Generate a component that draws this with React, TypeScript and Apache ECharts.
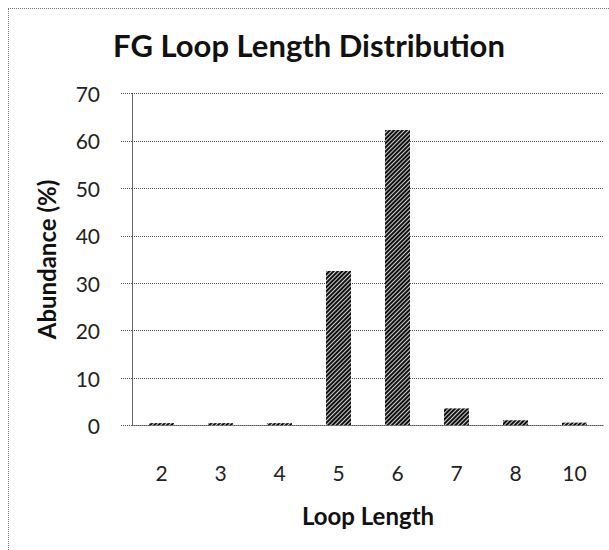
import React, { useEffect, useRef } from "react";
import * as echarts from "echarts";

const categories = ["2", "3", "4", "5", "6", "7", "8", "10"];
const abundance = [0.5, 0.5, 0.5, 32.6, 62.3, 3.6, 1.1, 0.6];
const yTicks = [0, 10, 20, 30, 40, 50, 60, 70];

const FONT = "Lato, 'Open Sans', sans-serif";

export default function App() {
  const ref = useRef<HTMLDivElement>(null);
  useEffect(() => {
    if (!ref.current) return;
    const chart = echarts.init(ref.current, undefined, { renderer: "svg" });
    chart.setOption({
      animation: false,
      backgroundColor: "#fff",
      title: {
        text: "FG Loop Length Distribution",
        left: "center",
        top: 15,
        textStyle: { fontFamily: FONT, fontWeight: "bold", fontSize: 31, color: "#111" },
      },
      grid: { left: 123, top: 84.5, width: 472, height: 332 },
      xAxis: {
        type: "category",
        data: categories,
        name: "Loop Length",
        nameLocation: "middle",
        nameGap: 78,
        nameTextStyle: { fontFamily: FONT, fontWeight: "bold", fontSize: 24, color: "#111" },
        axisLine: { show: true, lineStyle: { color: "#555", type: "dotted", width: 1 } },
        axisTick: { show: false },
        axisLabel: { margin: 36, fontFamily: FONT, fontSize: 21, color: "#222" },
      },
      yAxis: {
        type: "value",
        min: 0,
        max: 70,
        interval: 10,
        name: "Abundance (%)",
        nameLocation: "middle",
        nameGap: 74,
        nameTextStyle: { fontFamily: FONT, fontWeight: "bold", fontSize: 24, color: "#111" },
        axisLine: { show: true, lineStyle: { color: "#555", type: "dotted", width: 1 } },
        axisTick: { show: true, length: 11, lineStyle: { color: "#555", type: "dotted" } },
        axisLabel: {
          margin: 32,
          fontFamily: FONT,
          fontSize: 21,
          color: "#222",
          formatter: (v: number) => (yTicks.includes(v) ? String(v) : ""),
        },
        splitLine: { show: true, lineStyle: { color: "#555", type: "dotted", width: 1 } },
      },
      series: [
        {
          type: "bar",
          data: abundance,
          barWidth: 25,
          itemStyle: {
            color: "#cfcfcf",
            decal: {
              symbol: "rect",
              symbolSize: 1,
              color: "#111",
              dashArrayX: [1, 0],
              dashArrayY: [2, 1],
              rotation: -Math.PI / 4,
            },
          },
        },
      ],
    });
    return () => chart.dispose();
  }, []);
  return (
    <div
      style={{
        position: "absolute",
        left: 8,
        top: 8,
        width: 601,
        height: 542,
        boxSizing: "border-box",
        borderLeft: "1px dotted #777",
        borderTop: "1px dotted #777",
        overflow: "hidden",
      }}
    >
      <div ref={ref} style={{ width: 600, height: 541 }} />
    </div>
  );
}
